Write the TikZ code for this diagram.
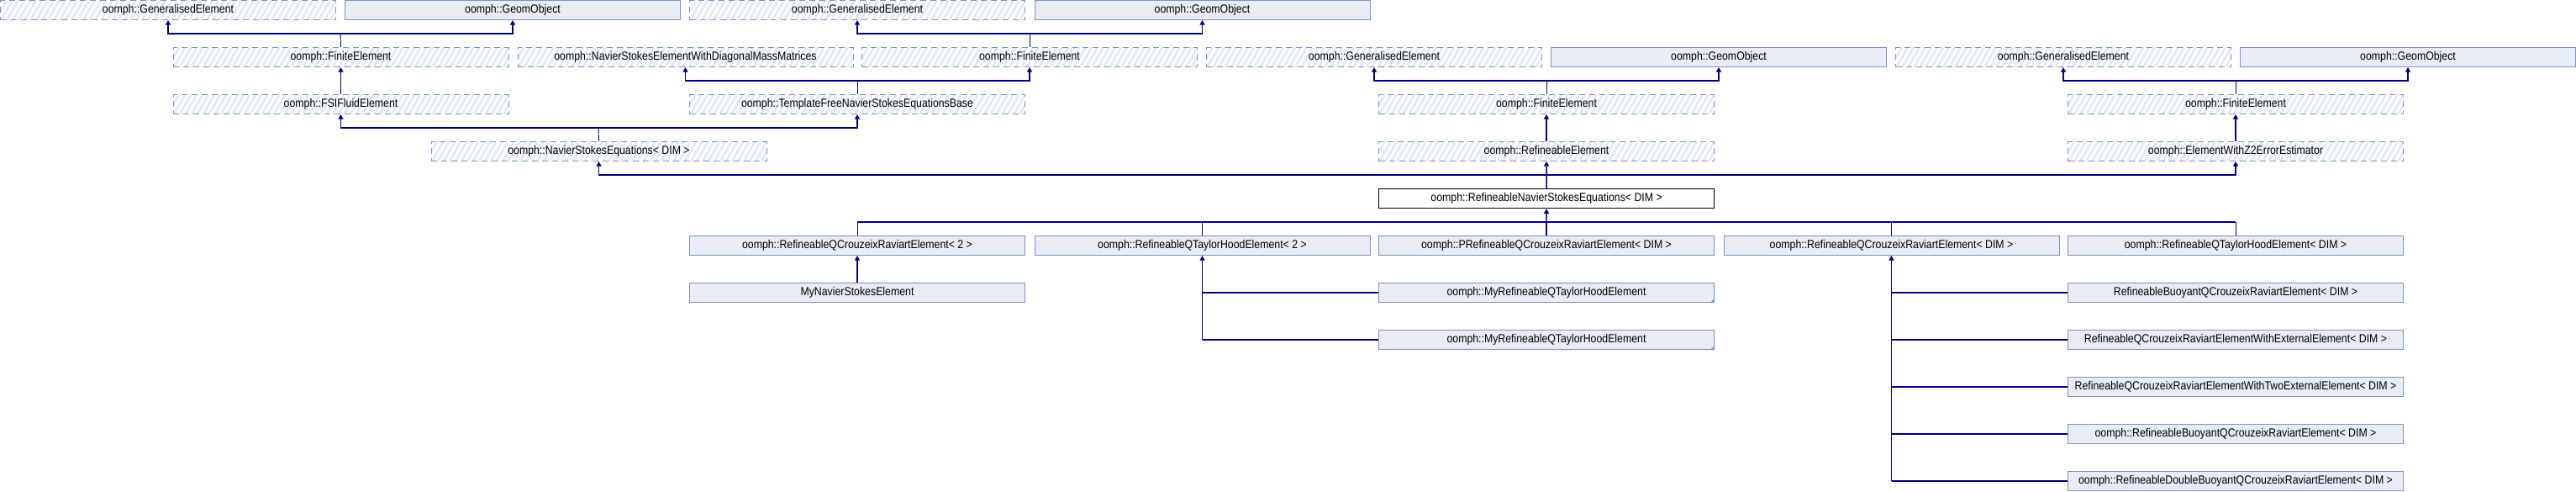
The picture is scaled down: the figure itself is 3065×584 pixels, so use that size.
\documentclass[tikz,border=0pt]{standalone}
\usepackage{fontspec}
\newfontfamily\dox[FakeStretch=0.88]{Liberation Sans}
\usetikzlibrary{arrows.meta}
\definecolor{bord}{RGB}{125,146,200}
\definecolor{boxfill}{RGB}{232,236,245}
\definecolor{hatchc}{RGB}{228,233,245}
\definecolor{linec}{RGB}{0,0,128}
\begin{document}
\begin{tikzpicture}[x=0.5pt,y=-0.5pt,
  base/.style={minimum width=199.5pt, minimum height=11.5pt, inner sep=0pt, anchor=north west,
    font=\dox\fontsize{7pt}{8pt}\selectfont, line width=0.5pt},
  solidbox/.style={base, draw=bord, fill=boxfill},
  curbox/.style={base, draw=black, fill=white, line width=0.6pt},
  hatchbox/.style={base, draw=bord, dash pattern=on 3.5pt off 2.5pt,
    path picture={\foreach \k in {0,...,62}{\draw[hatchc, solid, line width=1.4pt]
      ([xshift=\k*3.5pt-10pt]path picture bounding box.south west) -- ++(6.64pt,11.5pt);}}},
  thk/.style={draw=linec, line width=0.7pt},
  thn/.style={draw=linec, line width=0.45pt},
  tip/.style={-{Triangle[width=3pt,length=2.8pt]}},
  arr/.style={thk, tip},
]
\useasboundingbox (0,0) rectangle (3065,584);
% row 1
\node[hatchbox] (GEa) at (0,0) {oomph::GeneralisedElement};
\node[solidbox] (GOa) at (410,0) {oomph::GeomObject};
\node[hatchbox] (GEb) at (820,0) {oomph::GeneralisedElement};
\node[solidbox] (GOb) at (1230.5,0) {oomph::GeomObject};
% row 2
\node[hatchbox] (FEa) at (205.5,56) {oomph::FiniteElement};
\node[hatchbox] (NSD) at (615.5,56) {oomph::NavierStokesElementWithDiagonalMassMatrices};
\node[hatchbox] (FEb) at (1025,56) {oomph::FiniteElement};
\node[hatchbox] (GEc) at (1435,56) {oomph::GeneralisedElement};
\node[solidbox] (GOc) at (1845,56) {oomph::GeomObject};
\node[hatchbox] (GEd) at (2255,56) {oomph::GeneralisedElement};
\node[solidbox] (GOd) at (2665,56) {oomph::GeomObject};
% row 3
\node[hatchbox] (FSI) at (205.5,112) {oomph::FSIFluidElement};
\node[hatchbox] (TF) at (820,112) {oomph::TemplateFreeNavierStokesEquationsBase};
\node[hatchbox] (FEc) at (1640,112) {oomph::FiniteElement};
\node[hatchbox] (FEd) at (2460,112) {oomph::FiniteElement};
% row 4
\node[hatchbox] (NSE) at (512.5,168) {oomph::NavierStokesEquations< DIM >};
\node[hatchbox] (RE) at (1640,168) {oomph::RefineableElement};
\node[hatchbox] (EZ) at (2460,168) {oomph::ElementWithZ2ErrorEstimator};
% row 5
\node[curbox] (RNS) at (1640,224) {oomph::RefineableNavierStokesEquations< DIM >};
% row 6
\node[solidbox] (CRa) at (820,280) {oomph::RefineableQCrouzeixRaviartElement< 2 >};
\node[solidbox] (THa) at (1230.5,280) {oomph::RefineableQTaylorHoodElement< 2 >};
\node[solidbox] (PCR) at (1640,280) {oomph::PRefineableQCrouzeixRaviartElement< DIM >};
\node[solidbox] (CRd) at (2050.5,280) {oomph::RefineableQCrouzeixRaviartElement< DIM >};
\node[solidbox] (THd) at (2460,280) {oomph::RefineableQTaylorHoodElement< DIM >};
% row 7..11
\node[solidbox] (MyNSE) at (820,336) {MyNavierStokesElement};
\node[solidbox] (MTa) at (1640,336) {oomph::MyRefineableQTaylorHoodElement};
\node[solidbox] (BQ) at (2460,336) {RefineableBuoyantQCrouzeixRaviartElement< DIM >};
\node[solidbox] (MTb) at (1640,392) {oomph::MyRefineableQTaylorHoodElement};
\node[solidbox] (WE) at (2460,392) {RefineableQCrouzeixRaviartElementWithExternalElement< DIM >};
\node[solidbox] (WTE) at (2460,448) {RefineableQCrouzeixRaviartElementWithTwoExternalElement< DIM >};
\node[solidbox] (OBQ) at (2460,504) {oomph::RefineableBuoyantQCrouzeixRaviartElement< DIM >};
\node[solidbox] (DBQ) at (2460,560) {oomph::RefineableDoubleBuoyantQCrouzeixRaviartElement< DIM >};
% "more" markers
\fill[bord] (MTa.south east) -- ++(-2.6pt,0) -- ++(2.6pt,2.6pt) -- cycle;
\fill[bord] (MTb.south east) -- ++(-2.6pt,0) -- ++(2.6pt,2.6pt) -- cycle;
% junctions
\coordinate (jA) at (405,40);
\coordinate (jB) at (1225,40);
\coordinate (jC) at (1020,96);
\coordinate (jD) at (1840,96);
\coordinate (jE) at (2660,96);
\coordinate (jF) at (712,152);
\coordinate (jG) at (1840,208);
\coordinate (jH) at (1840,264);
% FiniteElement -> GeneralisedElement, GeomObject
\draw[thn] (FEa.north) -- (jA);
\draw[arr] (jA) -| (GEa.south);
\draw[arr] (jA) -| (GOa.south);
\draw[thn] (FEb.north) -- (jB);
\draw[arr] (jB) -| (GEb.south);
\draw[arr] (jB) -| (GOb.south);
\draw[thn] (FEc.north) -- (jD);
\draw[arr] (jD) -| (GEc.south);
\draw[arr] (jD) -| (GOc.south);
\draw[thn] (FEd.north) -- (jE);
\draw[arr] (jE) -| (GEd.south);
\draw[arr] (jE) -| (GOd.south);
% FSI -> FE
\draw[arr] (FSI.north) -- (FEa.south);
% TemplateFree -> NSD, FE
\draw[thn] (TF.north) -- (jC);
\draw[arr] (jC) -| (NSD.south);
\draw[arr] (jC) -| (FEb.south);
% NSE -> FSI, TF
\draw[thn] (NSE.north) -- (jF);
\draw[arr] (jF) -| (FSI.south);
\draw[arr] (jF) -| (TF.south);
% RE -> FE, EZ -> FE
\draw[arr] (RE.north) -- (FEc.south);
\draw[arr] (EZ.north) -- (FEd.south);
% RNS -> NSE, RE, EZ
\draw[arr] (RNS.north) -- (RE.south);
\draw[arr] (jG) -| (NSE.south);
\draw[arr] (jG) -| (EZ.south);
% children of RNS
\draw[arr] (jH) -- (RNS.south);
\draw[thk] (jH) -- (PCR.north);
\draw[thk] (CRa.north |- jH) -- (THd.north |- jH);
\draw[thn] (jH) -| (CRa.north);
\draw[thn] (jH) -| (THa.north);
\draw[thn] (jH) -| (CRd.north);
\draw[thn] (jH) -| (THd.north);
% MyNSE -> CRa
\draw[arr] (MyNSE.north) -- (CRa.south);
% MyRQTH -> THa
\draw[thn, tip] (THa.south |- MTb.west) -- (THa.south);
\draw[thk] (THa.south |- MTa.west) -- (MTa.west);
\draw[thk] (THa.south |- MTb.west) -- (MTb.west);
% right column -> CRd
\draw[thn, tip] (CRd.south |- DBQ.west) -- (CRd.south);
\draw[thk] (CRd.south |- BQ.west) -- (BQ.west);
\draw[thk] (CRd.south |- WE.west) -- (WE.west);
\draw[thk] (CRd.south |- WTE.west) -- (WTE.west);
\draw[thk] (CRd.south |- OBQ.west) -- (OBQ.west);
\draw[thk] (CRd.south |- DBQ.west) -- (DBQ.west);
\end{tikzpicture}
\end{document}
